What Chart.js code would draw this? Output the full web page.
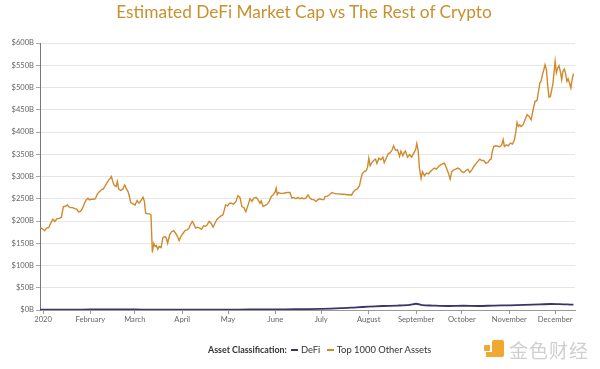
<!DOCTYPE html>
<html><head><meta charset="utf-8">
<script src="https://cdn.jsdelivr.net/npm/chart.js@4.4.1/dist/chart.umd.min.js"></script>
<style>
html,body{margin:0;padding:0;background:#fff;}
#wrap{position:relative;width:600px;height:369px;overflow:hidden;font-family:Lato,"Open Sans",sans-serif;}
#title{position:absolute;left:4px;top:0;width:600px;text-align:center;font-size:17.3px;color:#c8912e;line-height:24px;white-space:nowrap;}
#legend{position:absolute;left:208px;top:343px;font-size:9.4px;color:#333;white-space:nowrap;line-height:13px;}
#legend b{font-weight:700;margin-right:2px;font-size:8.9px;}
.sw{display:inline-block;width:7px;height:2px;vertical-align:middle;margin:0 3px 0 2px;position:relative;top:-1px;}
#wm{position:absolute;left:509px;top:336px;font-family:"Noto Sans CJK SC",sans-serif;font-size:19px;color:#cfcfcf;letter-spacing:1px;white-space:nowrap;}
#logo1{position:absolute;left:484px;top:345px;width:6px;height:6px;background:#f0a830;border-radius:1px;}
#logo2{position:absolute;left:492px;top:340px;width:12px;height:17px;background:#f0a830;border-radius:2px;}
#logo3{position:absolute;left:486px;top:352px;width:10px;height:5px;background:#f0a830;}
canvas{position:absolute;left:0;top:0;}
</style></head>
<body>
<div id="wrap">
<canvas id="c" width="600" height="369"></canvas>
<div id="title">Estimated DeFi Market Cap vs The Rest of Crypto</div>
<div id="legend"><b>Asset Classification:</b><span class="sw" style="background:#3b3566"></span>DeFi <span class="sw" style="background:#d08a2b;margin-left:4px"></span>Top 1000 Other Assets</div>
<div id="logo1"></div><div id="logo3"></div><div id="logo2"></div>
<div id="wm">金色财经</div>
</div>
<script>
// x = days since 2020-01-01, y = market cap in $B
const monthTickDays = [0,31,60,91,121,152,182,213,244,274,305,335];
const monthTickLabels = ['2020','February','March','April','May','June','July','August','September','October','November','December'];
const yTickValues = [0,50,100,150,200,250,300,350,400,450,500,550,600];

const defiDays = [-2,10,20,31,45,60,71,80,91,105,121,135,152,165,182,195,205,213,222,232,240,244,248,255,265,275,285,295,305,315,325,332,338,343,347];
const defiValues = [0.9,0.9,1.0,1.1,1.2,1.1,0.6,0.7,0.8,0.9,1.0,1.1,1.4,1.8,2.5,4,6,7.5,9,10,11.5,14,11,10,9,9.5,9,10,10.5,11.5,12.5,13.5,13,12.5,12];

const otherDays = [-2.4,-0.6,1.1,2.2,3.7,4.8,6.4,7.7,9,10.7,12,13.3,14.6,16,16.8,17.9,19.4,20.7,22,23.4,24.7,26,27.3,28.2,29.4,30.3,31.6,33.2,34.2,35.6,36.9,38.2,39.5,40.4,41.7,43,44,44.7,45.6,46.4,47.8,48.6,49.5,50.8,52.1,53.4,54.3,55.6,56.5,57.3,58.9,60.2,61.5,62.8,64.1,65.4,66.3,67.1,68.4,69.7,70.6,71.5,72.4,73.3,74.1,75,75.9,77.2,78.5,79.8,80.7,81.5,82.8,84.1,85.4,86.7,88,89,90.3,91.6,92.9,94.2,95.5,96.3,97.6,98.5,99.8,101.1,102.4,103.7,105,106.3,107.3,108.6,109.9,111.2,112.5,113.8,115.1,116.4,117.7,118.6,119.4,120.7,122,123.1,124.6,126.2,127.5,128.8,130.1,131.4,132.7,134,135.4,136.7,138,139.3,140.6,141.9,142.7,144,145.4,146.7,148,149.3,150.6,151.9,152.5,153.2,154,155.4,156.7,158,159.7,161.5,162.8,164.1,165.4,166.7,168,169.3,170.6,172,173.3,174.6,175.9,177.2,178.5,179.8,181.1,182.4,183.7,184.6,186.1,187.4,189,190,191.8,193.5,195.2,197,198.7,200.5,201.8,203.1,204.4,205.7,207,207.9,208.8,210.1,211.4,212.3,213.1,214,214.9,216.2,217.5,218.4,219.7,221,222.3,223.2,224.5,225.8,227.1,228.4,229.3,230.6,231.9,233.2,234.1,235.4,236.3,237.1,238.4,239.8,241.1,242.4,243.7,244.5,245.4,246.2,247.3,248.2,249.5,250.8,252.1,253.4,254.7,256,257.3,258.7,260,261.3,262.6,263.9,265.2,266.3,267.4,268.7,270,271.3,272.6,273.9,275.2,276.5,277.9,279.2,280.5,281.8,283.1,284.4,285.7,287,288.3,289.6,290.9,292.2,293.1,293.9,294.8,296.1,297.5,298.8,300.1,301,301.8,303.1,304.4,305.8,307.1,308.4,309.3,310.1,311,311.9,312.7,314,315.3,316.7,318,319.3,320.6,321.9,323.2,324.1,325,325.8,326.7,327.6,328.4,329.3,330.2,331,331.9,332.8,333.6,334.5,335,335.8,336.7,337.5,338.4,339.3,340.1,341,341.8,342.7,343.5,344.4,345.3,346.1,347];
const otherValues = [186,183,178,184,185,193.5,204,199,205,206,208.5,232.5,233,236,232,230,230,228,226.5,220.5,222,230,241.5,247.5,251,247.5,249,249,250,261,266,270,272,277.5,285,292.5,296,300,289,281,277.5,289,271.5,268.5,271.5,281,274,266,255,241.5,238.5,236,246,240,246,253.5,244,217.5,216,216,214,129,150,142.5,145,136.5,142.5,140,163.5,165,161,150,169,176,178.5,172.5,165,156,166,172.5,178.5,180,184,191,199,194,184,186,184,181.5,189,188,191,199,195,186,195,204,208,211.5,214,225,236,234,240,240,238,244,257,253,232.5,230,221,234.5,250,244.5,251.5,253,248,240,245,232.5,235,238,244,255,259,266,274,259,264,262,262,263,264,264,251.5,253,250,253,250,251.5,250,251.5,259,251.5,248,248,244,248,250,248,248,255,256,259,264,262.5,261,261,260,260,259,259,258,266,270,272.5,279,294,306,311,313,321,341,324,329.5,336,339,329.5,341,337.5,343.5,331,341,351,353.5,360,369,359,360,345,357,346.5,354,357,343.5,349,343.5,352,360,374,359,320,296,311,302,307.5,306,311,315,319,316.5,322.5,326,328.5,330,319,307.5,294,311,315,316.5,319,316.5,311,309,313,316.5,309,315,322.5,328.5,334,339,336,336,330,331,337.5,339,356,367.5,369,368,367,371,382.5,367.5,371,369,375,373,382.5,401,421.5,412.5,416,412.5,416,427.5,439,435,427.5,450,469,471,491,510,514,529,540,551,540,502.5,478.5,480,495,510,541.5,559,533,544,549,536,517.5,536,541.5,532.5,514,519.5,510,499,517.5,531];

function pairs(xs, ys){
  const n = Math.min(xs.length, ys.length);
  const out = [];
  for (let i = 0; i < n; i++) out.push({x: xs[i], y: ys[i]});
  return out;
}

const tickFont = {family: 'Lato, "Open Sans", sans-serif', size: 7.6};

new Chart(document.getElementById('c'), {
  type: 'line',
  data: {
    datasets: [
      {label: 'Top 1000 Other Assets', data: pairs(otherDays, otherValues), borderColor: '#cf8a2c', borderWidth: 1.4, pointRadius: 0, tension: 0, fill: false},
      {label: 'DeFi', data: pairs(defiDays, defiValues), borderColor: '#3b3566', borderWidth: 1.8, pointRadius: 0, tension: 0.3, fill: false}
    ]
  },
  options: {
    responsive: false,
    animation: false,
    events: [],
    layout: {padding: {top: 43, right: 25, bottom: 0, left: 0}},
    plugins: {legend: {display: false}, title: {display: false}, tooltip: {enabled: false}},
    scales: {
      x: {
        type: 'linear', min: -2, max: 348,
        afterBuildTicks: s => { s.ticks = monthTickDays.map(v => ({value: v})); },
        afterFit: s => { s.height = 59; },
        ticks: {callback: (v, i) => monthTickLabels[i], autoSkip: false, maxRotation: 0, color: '#666', font: tickFont, padding: 1},
        grid: {drawOnChartArea: false, tickLength: 4, tickColor: '#999'},
        border: {color: '#999'}
      },
      y: {
        min: 0, max: 600,
        afterBuildTicks: s => { s.ticks = yTickValues.map(v => ({value: v})); },
        afterFit: s => { s.width = 40; },
        ticks: {callback: v => '$' + v + 'B', color: '#666', font: tickFont, padding: 2},
        grid: {color: '#e6e6e6', tickLength: 4, tickColor: '#aaa'},
        border: {color: '#777'}
      }
    }
  }
});
</script>
</body></html>
